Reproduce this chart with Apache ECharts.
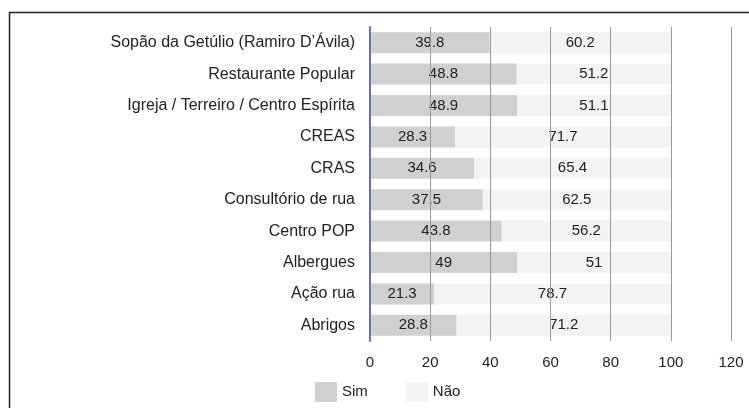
<!DOCTYPE html>
<html>
<head>
<meta charset="utf-8">
<script src="https://cdn.jsdelivr.net/npm/echarts@6/dist/echarts.min.js"></script>
<style>html,body{margin:0;padding:0;background:#fff}#c{width:749px;height:408px}</style>
</head>
<body>
<div id="c"></div>
<script>
const categories = ["Sopão da Getúlio (Ramiro D’Ávila)", "Restaurante Popular", "Igreja / Terreiro / Centro Espírita", "CREAS", "CRAS", "Consultório de rua", "Centro POP", "Albergues", "Ação rua", "Abrigos"];
const simValues = [39.8, 48.8, 48.9, 28.3, 34.6, 37.5, 43.8, 49, 21.3, 28.8];
const naoValues = [60.2, 51.2, 51.1, 71.7, 65.4, 62.5, 56.2, 51, 78.7, 71.2];
const xTicks = [0, 20, 40, 60, 80, 100, 120];

const chart = echarts.init(document.getElementById('c'), null, {renderer: 'canvas'});
const font = 'Arial, "Liberation Sans", sans-serif';
chart.setOption({
  animation: false,
  textStyle: {fontFamily: font},
  graphic: [{
    type: 'rect', left: 7, top: 10, z: 100, silent: true,
    shape: {width: 800, height: 450},
    style: {fill: 'none', stroke: '#222', lineWidth: 1.5}
  }],
  grid: {left: 370, right: 18, top: 27, height: 314, containLabel: false},
  legend: {
    left: 310, top: 377, itemWidth: 22, itemHeight: 20, itemGap: 38,
    icon: 'rect',
    textStyle: {fontSize: 15, color: '#222', fontFamily: font},
    data: ['Sim', 'Não']
  },
  xAxis: {
    type: 'value', min: 0, max: 120, interval: 20, z: 5,
    axisLine: {show: false}, axisTick: {show: false},
    axisLabel: {fontSize: 15, color: '#222', margin: 14, fontFamily: font,
      formatter: v => xTicks.includes(v) ? String(v) : ''},
    splitLine: {show: true, lineStyle: {color: '#999999', width: 1}}
  },
  yAxis: {
    type: 'category', data: categories, inverse: true, z: 6,
    axisLine: {show: true, lineStyle: {color: '#6a6ad8', width: 2}},
    axisTick: {show: false},
    axisLabel: {fontSize: 16, color: '#222', margin: 15, fontFamily: font}
  },
  series: [
    {name: 'Sim', type: 'bar', stack: 't', data: simValues, barWidth: 21,
     itemStyle: {color: '#d0d0d2'},
     label: {show: true, position: 'inside', color: '#222', fontSize: 15, fontFamily: font}},
    {name: 'Não', type: 'bar', stack: 't', data: naoValues, barWidth: 21,
     itemStyle: {color: '#f2f3f2'},
     label: {show: true, position: 'inside', color: '#222', fontSize: 15, fontFamily: font}}
  ]
});
</script>
</body>
</html>
